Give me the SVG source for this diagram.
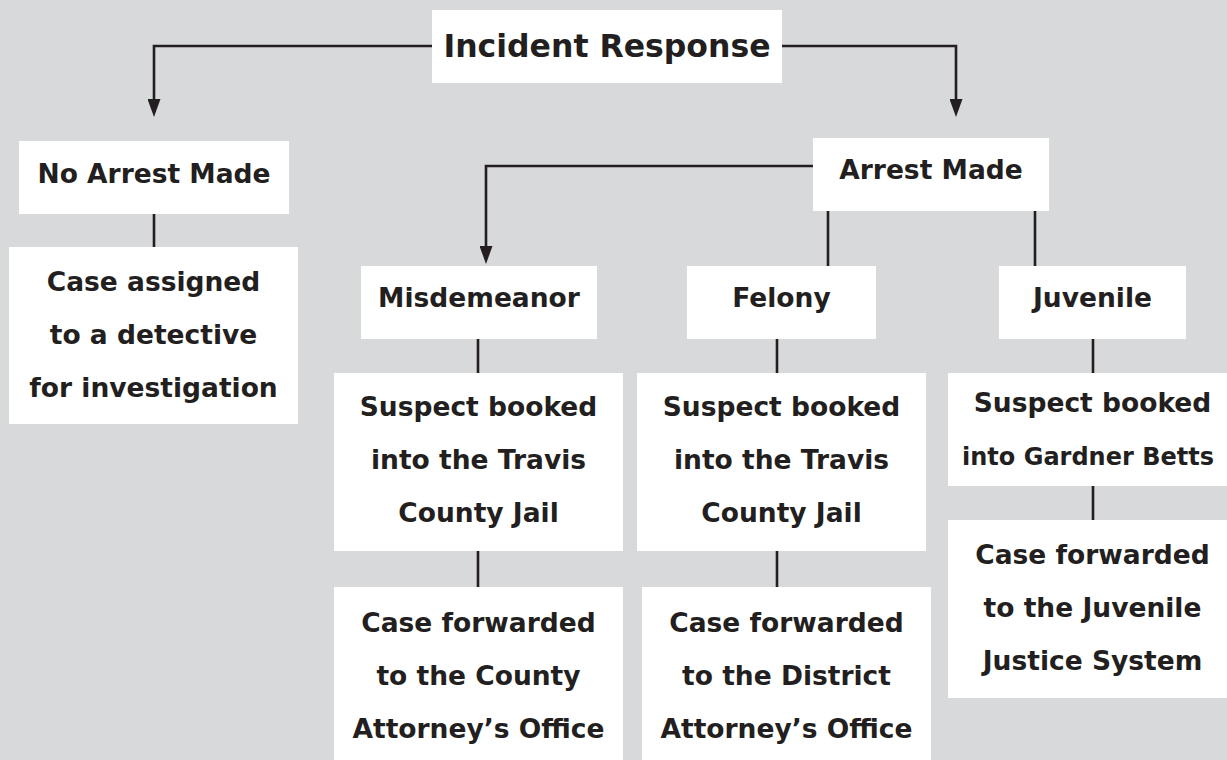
<svg xmlns="http://www.w3.org/2000/svg" width="1227" height="760" viewBox="0 0 1227 760">
<style>
.bg{fill:#d8d9db}
.box{fill:#ffffff}
.t{font-family:"DejaVu Sans","Noto Sans",sans-serif;font-weight:700;font-size:26.5px;fill:#231f20;text-anchor:middle}
.title{font-size:31.5px}
.ln{fill:none;stroke:#231f20;stroke-width:2.6}
</style>
<defs>
<marker id="arr" markerUnits="userSpaceOnUse" markerWidth="18" markerHeight="13" refX="11" refY="6.5" orient="auto" viewBox="0 0 18 13">
<path d="M0,0 L18,6.5 L0,13 z" fill="#231f20"/>
</marker>
</defs>
<rect class="bg" x="0" y="0" width="1227" height="760"/>
<g id="connectors">
<path class="ln" d="M432,46 H154 V110" marker-end="url(#arr)"/>
<path class="ln" d="M782,46 H956 V110" marker-end="url(#arr)"/>
<path class="ln" d="M813,166 H486 V257" marker-end="url(#arr)"/>
<path class="ln" d="M154,214 V247"/>
<path class="ln" d="M828,211 V266"/>
<path class="ln" d="M1035,211 V266"/>
<path class="ln" d="M478,339 V373"/>
<path class="ln" d="M478,551 V587"/>
<path class="ln" d="M777,339 V373"/>
<path class="ln" d="M777,551 V587"/>
<path class="ln" d="M1093,339 V373"/>
<path class="ln" d="M1093,486 V520"/>
</g>
<g id="incident-response">
<rect class="box" x="432" y="10" width="350" height="73"/>
<text class="t title" x="607" y="57">Incident Response</text>
</g>
<g id="no-arrest">
<rect class="box" x="19" y="141" width="270" height="73"/>
<text class="t" x="154" y="183">No Arrest Made</text>
</g>
<g id="case-assigned">
<rect class="box" x="9" y="247" width="289" height="177"/>
<text class="t" x="153.5" y="291">Case assigned</text>
<text class="t" x="153.5" y="344">to a detective</text>
<text class="t" x="153.5" y="397">for investigation</text>
</g>
<g id="arrest-made">
<rect class="box" x="813" y="138" width="236" height="73"/>
<text class="t" x="931" y="179">Arrest Made</text>
</g>
<g id="misdemeanor">
<rect class="box" x="361" y="266" width="236" height="73"/>
<text class="t" x="479" y="307">Misdemeanor</text>
</g>
<g id="felony">
<rect class="box" x="687" y="266" width="189" height="73"/>
<text class="t" x="781.5" y="307">Felony</text>
</g>
<g id="juvenile">
<rect class="box" x="999" y="266" width="187" height="73"/>
<text class="t" x="1092.5" y="307">Juvenile</text>
</g>
<g id="misd-booked">
<rect class="box" x="334" y="373" width="289" height="178"/>
<text class="t" x="478.5" y="416">Suspect booked</text>
<text class="t" x="478.5" y="469">into the Travis</text>
<text class="t" x="478.5" y="522">County Jail</text>
</g>
<g id="felony-booked">
<rect class="box" x="637" y="373" width="289" height="178"/>
<text class="t" x="781.5" y="416">Suspect booked</text>
<text class="t" x="781.5" y="469">into the Travis</text>
<text class="t" x="781.5" y="522">County Jail</text>
</g>
<g id="juvenile-booked">
<rect class="box" x="948" y="373" width="279" height="113"/>
<text class="t" x="1092.5" y="412">Suspect booked</text>
<text class="t" x="1088" y="465" style="font-size:24px">into Gardner Betts</text>
</g>
<g id="misd-forwarded">
<rect class="box" x="334" y="587" width="289" height="173"/>
<text class="t" x="478.5" y="632">Case forwarded</text>
<text class="t" x="478.5" y="685">to the County</text>
<text class="t" x="478.5" y="738">Attorney’s Office</text>
</g>
<g id="felony-forwarded">
<rect class="box" x="642" y="587" width="289" height="173"/>
<text class="t" x="786.5" y="632">Case forwarded</text>
<text class="t" x="786.5" y="685">to the District</text>
<text class="t" x="786.5" y="738">Attorney’s Office</text>
</g>
<g id="juvenile-forwarded">
<rect class="box" x="948" y="520" width="279" height="178"/>
<text class="t" x="1092.5" y="564">Case forwarded</text>
<text class="t" x="1092.5" y="617">to the Juvenile</text>
<text class="t" x="1092.5" y="670">Justice System</text>
</g>
</svg>
